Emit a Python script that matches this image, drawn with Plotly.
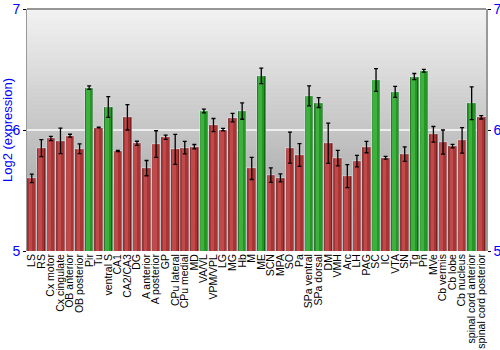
import plotly.graph_objects as go

# Brain regions and mean log2 expression with standard errors
regions = [
    "LS", "RS", "Cx motor", "Cx cingulate", "OB anterior", "OB posterior", "Pir", "Tu",
    "ventral S", "CA1", "CA2/CA3", "DG", "A anterior", "A posterior", "GP", "CPu lateral",
    "CPu medial", "MD", "VA/VL", "VPM/VPL", "LG", "MG", "Hb", "M", "ME", "SCN", "MPA",
    "SO", "Pa", "SPa ventral", "SPa dorsal", "DM", "VMH", "Arc", "LH", "PAG", "SC", "IC",
    "VTA", "SN", "Tg", "Pn", "MVe", "Cb vermis", "Cb lobe", "Cb nucleus",
    "spinal cord anterior", "spinal cord posterior",
]
expression = [
    5.60, 5.85, 5.93, 5.91, 5.953, 5.845, 6.35, 6.02,
    6.19, 5.826, 6.105, 5.89, 5.685, 5.884, 5.94, 5.84,
    5.854, 5.862, 6.157, 6.041, 6.003, 6.102, 6.157, 5.682, 6.447, 5.627, 5.605,
    5.854, 5.793, 6.282, 6.227, 5.89, 5.768, 5.619, 5.743, 5.859, 6.414, 5.771,
    6.315, 5.801, 6.442, 6.49, 5.964, 5.90, 5.867, 5.914,
    6.221, 6.105,
]
std_err = [
    0.035, 0.07, 0.017, 0.105, 0.012, 0.04, 0.015, 0.003,
    0.085, 0.005, 0.105, 0.017, 0.063, 0.11, 0.017, 0.124,
    0.052, 0.018, 0.015, 0.054, 0.011, 0.035, 0.068, 0.091, 0.064, 0.06, 0.033,
    0.128, 0.094, 0.083, 0.041, 0.166, 0.064, 0.095, 0.047, 0.047, 0.094, 0.011,
    0.046, 0.06, 0.025, 0.011, 0.065, 0.10, 0.014, 0.105,
    0.135, 0.014,
]
highlighted = {
    "Pir", "ventral S", "VA/VL", "Hb", "ME", "SPa ventral", "SPa dorsal",
    "SC", "VTA", "Tg", "Pn", "spinal cord anterior",
}

# Shading layers: dark edge, mid body, light highlight
red_shades = ["#7d1f1f", "#a83434", "#c04a4a"]
green_shades = ["#146614", "#249624", "#3db03d"]
widths = [0.9, 0.7, 0.35]
offsets = [-0.45, -0.38, -0.3]

fig = go.Figure()
for i in range(3):
    colors = [(green_shades if r in highlighted else red_shades)[i] for r in regions]
    fig.add_trace(go.Bar(
        x=regions, y=expression, base=0,
        width=widths[i], offset=offsets[i],
        marker=dict(color=colors, line=dict(width=0)),
        hoverinfo="skip" if i else None,
        showlegend=False,
    ))

# Error bars drawn on an invisible bar layer centred on each category
fig.add_trace(go.Bar(
    x=regions, y=expression, width=0.9,
    marker=dict(color="rgba(0,0,0,0)"),
    error_y=dict(type="data", array=std_err, color="#000000", thickness=1.3, width=2),
    showlegend=False,
))

# Vertical grey gradient behind the bars
n_strips = 60
top_rgb = (242, 242, 242)
bot_rgb = (152, 152, 152)
shapes = []
for k in range(n_strips):
    t = k / (n_strips - 1)
    c = tuple(round(top_rgb[j] + (bot_rgb[j] - top_rgb[j]) * t) for j in range(3))
    shapes.append(dict(
        type="rect", xref="paper", yref="paper", layer="below",
        x0=0, x1=1, y0=1 - (k + 1) / n_strips, y1=1 - k / n_strips + 0.002,
        fillcolor="rgb(%d,%d,%d)" % c, line=dict(width=0),
    ))
shapes.append(dict(type="line", xref="paper", yref="paper", x0=0, x1=1, y0=1, y1=1,
                   line=dict(color="#777777", width=1.5)))

font_family = "Liberation Sans, Arial, sans-serif"
tick_font = dict(family=font_family, size=14, color="#0000ff")

fig.update_layout(
    width=500, height=350,
    margin=dict(l=27, r=14, t=9, b=99),
    paper_bgcolor="white", plot_bgcolor="#c0c0c0",
    barmode="overlay", bargap=0,
    shapes=shapes,
    xaxis=dict(
        tickmode="array", tickvals=regions, ticktext=regions,
        tickangle=-90, tickfont=dict(family=font_family, size=10.5, color="#000000"),
        showgrid=False, ticks="", showline=False, range=[-0.5, len(regions) - 0.5],
        automargin=False,
    ),
    yaxis=dict(
        range=[5, 7], tickvals=[5, 6, 7], ticktext=["5", "6", "7"],
        tickfont=tick_font, showgrid=True, gridcolor="#eeeeee", gridwidth=2,
        showline=True, linecolor="#999999", linewidth=1,
        ticks="outside", ticklen=3, tickcolor="#000000", zeroline=False,
        automargin=False,
        title=dict(text="Log2 (expression)", font=dict(family=font_family, size=13, color="#0000ff"),
                   standoff=2),
    ),
    yaxis2=dict(
        overlaying="y", side="right", range=[5, 7], tickvals=[5, 6, 7],
        ticktext=["5", "6", "7"], tickfont=tick_font, showgrid=False,
        showline=True, linecolor="#999999", linewidth=1.5,
        ticks="outside", ticklen=3, tickcolor="#000000", zeroline=False,
        automargin=False,
    ),
)
# Anchor the right-hand axis with an invisible trace
fig.add_trace(go.Scatter(x=[regions[0]], y=[5], yaxis="y2", mode="markers",
                         marker=dict(opacity=0), hoverinfo="skip", showlegend=False))

fig.write_html("out.html")
